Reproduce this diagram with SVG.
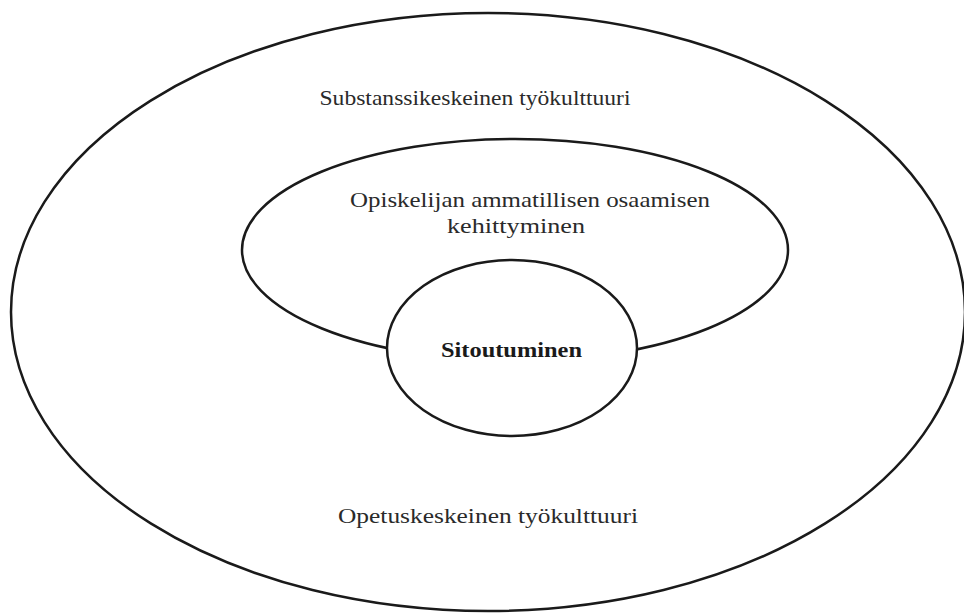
<svg xmlns="http://www.w3.org/2000/svg" width="964" height="616" viewBox="0 0 964 616">
  <style>
    .ring { fill: none; stroke: #1a1a1a; stroke-width: 2.5; }
    .core { fill: #ffffff; stroke: #1a1a1a; stroke-width: 2.5; }
    .lbl { font-family: "Liberation Serif", "DejaVu Serif", serif; font-size: 22px; fill: #2a2a2a; text-anchor: middle; }
    .bold { font-weight: bold; fill: #1a1a1a; }
  </style>
  <rect width="964" height="616" fill="#ffffff"/>
  <!-- outer ring: the two work cultures -->
  <g id="culture">
    <ellipse class="ring" cx="488" cy="312" rx="477" ry="299"/>
    <text class="lbl" x="475" y="105" textLength="311" lengthAdjust="spacingAndGlyphs">Substanssikeskeinen työkulttuuri</text>
    <text class="lbl" x="488" y="523" textLength="300" lengthAdjust="spacingAndGlyphs">Opetuskeskeinen työkulttuuri</text>
  </g>
  <!-- middle ring: the student's professional development -->
  <g id="development">
    <ellipse class="ring" cx="515" cy="250" rx="273" ry="111"/>
    <text class="lbl" x="530" y="207" textLength="360" lengthAdjust="spacingAndGlyphs">Opiskelijan ammatillisen osaamisen</text>
    <text class="lbl" x="516" y="233" textLength="138" lengthAdjust="spacingAndGlyphs">kehittyminen</text>
  </g>
  <!-- core: commitment -->
  <g id="commitment">
    <ellipse class="core" cx="512" cy="348" rx="125" ry="88"/>
    <text class="lbl bold" x="511.5" y="357" textLength="141" lengthAdjust="spacingAndGlyphs">Sitoutuminen</text>
  </g>
  <g id="connectors"/>
</svg>
